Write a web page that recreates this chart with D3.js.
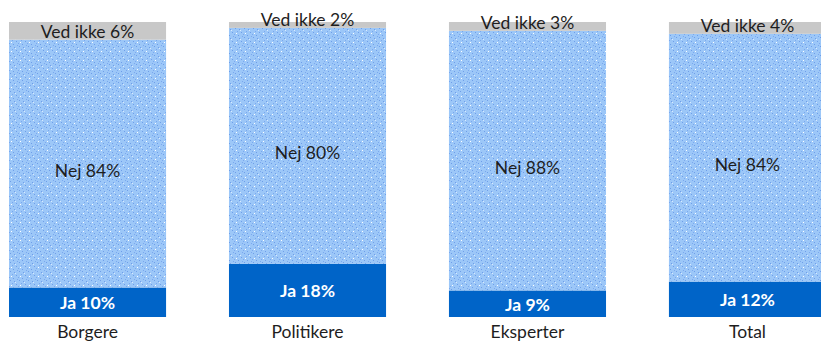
<!DOCTYPE html>
<html>
<head>
<meta charset="utf-8">
<script src="https://cdn.jsdelivr.net/npm/d3@7"></script>
<style>
  html, body { margin: 0; padding: 0; background: #ffffff; }
  svg { display: block; }
  text { font-family: "Lato", "Open Sans", sans-serif; }
</style>
</head>
<body>
<div id="chart"></div>
<script>
// ---- data ----
const categories = ["Borgere", "Politikere", "Eksperter", "Total"];
const jaValues = [10, 18, 9, 12];
const nejValues = [84, 80, 88, 84];
const vedIkkeValues = [6, 2, 3, 4];
const seriesNames = ["Ja", "Nej", "Ved ikke"];

const W = 821, H = 348;
const svg = d3.select("#chart").append("svg").attr("width", W).attr("height", H);

// texture pattern for the "Nej" segments
const defs = svg.append("defs");
const pat = defs.append("pattern").attr("id", "dots")
  .attr("patternUnits", "userSpaceOnUse").attr("width", 9).attr("height", 9);
pat.append("rect").attr("width", 9).attr("height", 9).attr("fill", "#9cc7f8");
[[1,1,"#6f9ee9"],[5,2,"#6f9ee9"],[3,4,"#7ba8ee"],[7,5,"#6f9ee9"],[0,7,"#7ba8ee"],[4,8,"#6f9ee9"],[8,0,"#7ba8ee"],[2,6,"#ffffff"],[6,3,"#d9eaff"]]
  .forEach(([x,y,c]) => pat.append("rect").attr("x", x).attr("y", y).attr("width", 1).attr("height", 1).attr("fill", c));

const rows = categories.map((c, i) => ({ cat: c, Ja: jaValues[i], Nej: nejValues[i], "Ved ikke": vedIkkeValues[i] }));
const stack = d3.stack().keys(seriesNames)(rows);

const x = d3.scaleBand().domain(categories).range([9, 826]).paddingInner(0.286).paddingOuter(0);
const y = d3.scaleLinear().domain([0, 100]).range([317, 22]);

const fills = { "Ja": "#0064c8", "Nej": "url(#dots)", "Ved ikke": "#c8c8c8" };

svg.append("g").selectAll("g").data(stack).join("g")
  .attr("fill", d => fills[d.key])
  .selectAll("rect").data(d => d).join("rect")
  .attr("x", d => x(d.data.cat))
  .attr("width", x.bandwidth())
  .attr("y", d => y(d[1]))
  .attr("height", d => y(d[0]) - y(d[1]));

// labels
const FS = 17.5;
const labels = svg.append("g").attr("text-anchor", "middle").attr("font-size", FS);
stack.forEach(s => {
  s.forEach(d => {
    const cx = x(d.data.cat) + x.bandwidth() / 2;
    const v = d[1] - d[0];
    let ty, col = "#1e1e1e", weight = 400;
    if (s.key === "Ja") { ty = (y(d[0]) + y(d[1])) / 2 + 7; col = "#ffffff"; weight = 700; }
    else if (s.key === "Nej") { ty = (y(d[0]) + y(d[1])) / 2 + 13; }
    else { ty = y(d[0]) - 2; }
    labels.append("text").attr("x", cx).attr("y", ty)
      .attr("fill", col).attr("font-weight", weight)
      .text(s.key + " " + v + "%");
  });
});

// category axis
const axis = d3.axisBottom(x).tickSize(0).tickPadding(0);
const ag = svg.append("g").attr("transform", "translate(0,326)").call(axis);
ag.select(".domain").remove();
ag.selectAll("text").attr("font-size", FS).attr("fill", "#1e1e1e")
  .attr("font-family", "Lato, 'Open Sans', sans-serif").attr("dy", "0.71em");
</script>
</body>
</html>
